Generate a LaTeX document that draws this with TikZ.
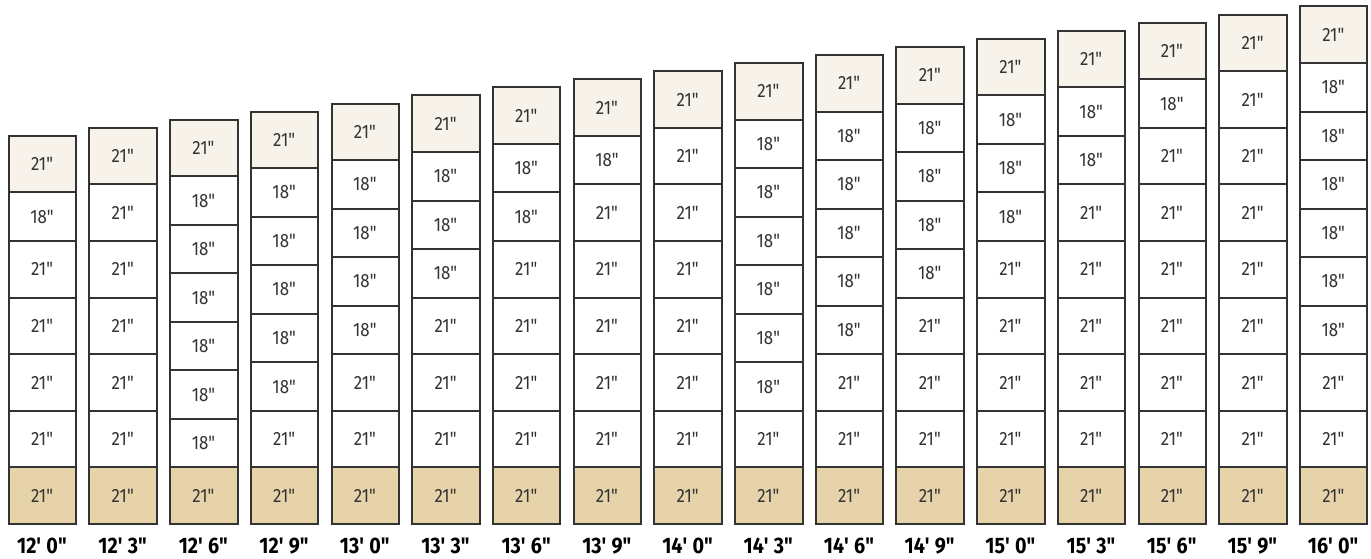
\documentclass[tikz,border=0pt]{standalone}
\usepackage{fontspec}
\setmainfont{Fira Sans}[FakeStretch=0.88]
\usetikzlibrary{positioning}
\definecolor{capfill}{HTML}{F7F3EA}
\definecolor{basefill}{HTML}{E6D3AA}
\definecolor{edge}{HTML}{333333}
\tikzset{
    box/.style={rectangle, draw=edge, line width=1pt, fill=white, minimum width=33.75pt, outer sep=0pt, inner sep=0pt, text=edge, font=\fontsize{9.6}{10}\selectfont},
    row21/.style={box, minimum height=28.3pt, node contents={21\textquotedbl}},
    row18/.style={box, minimum height=24.26pt, node contents={18\textquotedbl}},
    toprow/.style={row21, fill=capfill},
    baserow/.style={row21, fill=basefill},
    total/.style={inner sep=0pt, text=black, font=\bfseries\fontsize{11.2}{12}\selectfont}
}

\begin{document}
\begin{tikzpicture}
    \useasboundingbox (0,0) rectangle (685.5pt,279pt);

    % one stack per height, from the base course up
    \foreach \ft/\inch/\stack [count=\c] in {
        12/0/{row21,row21,row21,row21,row18,toprow},
        12/3/{row21,row21,row21,row21,row21,toprow},
        12/6/{row18,row18,row18,row18,row18,row18,toprow},
        12/9/{row21,row18,row18,row18,row18,row18,toprow},
        13/0/{row21,row21,row18,row18,row18,row18,toprow},
        13/3/{row21,row21,row21,row18,row18,row18,toprow},
        13/6/{row21,row21,row21,row21,row18,row18,toprow},
        13/9/{row21,row21,row21,row21,row21,row18,toprow},
        14/0/{row21,row21,row21,row21,row21,row21,toprow},
        14/3/{row21,row18,row18,row18,row18,row18,row18,toprow},
        14/6/{row21,row21,row18,row18,row18,row18,row18,toprow},
        14/9/{row21,row21,row21,row18,row18,row18,row18,toprow},
        15/0/{row21,row21,row21,row21,row18,row18,row18,toprow},
        15/3/{row21,row21,row21,row21,row21,row18,row18,toprow},
        15/6/{row21,row21,row21,row21,row21,row21,row18,toprow},
        15/9/{row21,row21,row21,row21,row21,row21,row21,toprow},
        16/0/{row21,row21,row18,row18,row18,row18,row18,row18,toprow}} {
        \node (b\c-0) [baserow, anchor=south, at={(\c*40.35pt-19.1pt, 17pt)}];
        \foreach \s [count=\k, remember=\k as \p (initially 0)] in \stack
            \node (b\c-\k) [\s, above=0pt of b\c-\p];
        \node (tot\c) [total, below=6.7pt of b\c-0] {\ft\textquotesingle\ \inch\textquotedbl};
    }
\end{tikzpicture}
\end{document}
